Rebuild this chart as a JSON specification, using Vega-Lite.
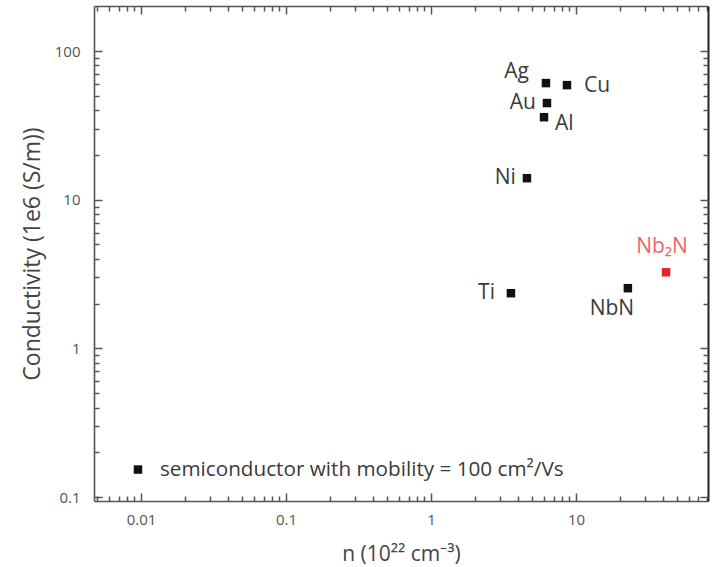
{
  "$schema": "https://vega.github.io/schema/vega-lite/v6.json",
  "width": 614,
  "height": 495,
  "autosize": {"type": "none"},
  "padding": {"left": 94, "top": 6, "right": 4, "bottom": 66},
  "background": "white",
  "config": {"view": {"stroke": null}, "font": "Open Sans"},
  "data": {"values": [
    {"name": "Ag", "n": 6.21, "sigma": 60.9, "sample": "reference"},
    {"name": "Cu", "n": 8.67, "sigma": 59.0, "sample": "reference"},
    {"name": "Au", "n": 6.31, "sigma": 44.7, "sample": "reference"},
    {"name": "Al", "n": 6.02, "sigma": 35.9, "sample": "reference"},
    {"name": "Ni", "n": 4.59, "sigma": 13.96, "sample": "reference"},
    {"name": "Ti", "n": 3.56, "sigma": 2.35, "sample": "reference"},
    {"name": "NbN", "n": 22.8, "sigma": 2.54, "sample": "reference"},
    {"name": "Nb₂N", "n": 41.8, "sigma": 3.25, "sample": "this work"},
    {"name": "semiconductor with mobility = 100 cm²/Vs", "n": 0.00953, "sigma": 0.153, "sample": "reference"}
  ]},
  "resolve": {"axis": {"x": "independent", "y": "independent"}},
  "layer": [
    {
      "mark": {"type": "point", "shape": "square", "filled": true, "size": 72, "opacity": 1},
      "encoding": {
        "x": {"field": "n", "type": "quantitative",
              "scale": {"type": "log", "domain": [0.00474, 81.4], "nice": false, "zero": false},
              "axis": {"orient": "bottom", "values": [0.01, 0.1, 1, 10], "ticks": false, "grid": false,
                       "domain": true, "domainColor": "#555", "domainWidth": 1.6,
                       "labelFontSize": 15, "labelColor": "#555", "labelPadding": 11, "labelFont": "Open Sans",
                       "title": "n (10²² cm⁻³)", "titleFontSize": 21, "titleFontWeight": "normal", "titleColor": "#444", "titlePadding": 16, "titleFont": "Open Sans"}},
        "y": {"field": "sigma", "type": "quantitative",
              "scale": {"type": "log", "domain": [0.094, 201], "nice": false, "zero": false},
              "axis": {"orient": "left", "values": [0.1, 1, 10, 100], "ticks": false, "grid": false,
                       "domain": true, "domainColor": "#555", "domainWidth": 1.6,
                       "labelFontSize": 15, "labelColor": "#555", "labelPadding": 14, "labelFont": "Open Sans",
                       "title": "Conductivity (1e6 (S/m))", "titleFontSize": 23, "titleFontWeight": "normal", "titleColor": "#444", "titlePadding": 10, "titleFont": "Open Sans"}},
        "color": {"field": "sample", "type": "nominal", "scale": {"domain": ["reference", "this work"], "range": ["#111111", "#e3242b"]}, "legend": null}
      }
    },
    {
      "mark": {"type": "point", "opacity": 0},
      "encoding": {
        "x": {"field": "n", "type": "quantitative",
              "axis": {"orient": "top", "offset": -495, "values": [0.01, 0.1, 1, 10], "ticks": true, "tickSize": 8, "tickWidth": 1.5, "tickColor": "#555", "labels": false, "domain": false, "grid": false, "title": null}},
        "y": {"field": "sigma", "type": "quantitative",
              "axis": {"orient": "right", "offset": -614, "values": [0.1, 1, 10, 100], "ticks": true, "tickSize": 8, "tickWidth": 1.5, "tickColor": "#555", "labels": false, "domain": false, "grid": false, "title": null}}
      }
    },
    {
      "mark": {"type": "point", "opacity": 0},
      "encoding": {
        "x": {"field": "n", "type": "quantitative",
              "axis": {"orient": "top", "offset": -495, "values": [0.005, 0.006, 0.007, 0.008, 0.009, 0.02, 0.03, 0.04, 0.05, 0.06, 0.07, 0.08, 0.09, 0.2, 0.3, 0.4, 0.5, 0.6, 0.7, 0.8, 0.9, 2, 3, 4, 5, 6, 7, 8, 9, 20, 30, 40, 50, 60, 70, 80], "ticks": true, "tickSize": 5, "tickWidth": 1.5, "tickColor": "#555", "labels": false, "domain": false, "grid": false, "title": null}},
        "y": {"field": "sigma", "type": "quantitative",
              "axis": {"orient": "right", "offset": -614, "values": [0.2, 0.3, 0.4, 0.5, 0.6, 0.7, 0.8, 0.9, 2, 3, 4, 5, 6, 7, 8, 9, 20, 30, 40, 50, 60, 70, 80, 90], "ticks": true, "tickSize": 5, "tickWidth": 1.5, "tickColor": "#555", "labels": false, "domain": false, "grid": false, "title": null}}
      }
    },
    {
      "mark": {"type": "point", "opacity": 0},
      "encoding": {
        "x": {"field": "n", "type": "quantitative",
              "axis": {"orient": "top", "values": [0.01, 0.1, 1, 10], "ticks": false, "labels": false, "domain": true, "domainColor": "#555", "domainWidth": 1.6, "grid": false, "title": null}},
        "y": {"field": "sigma", "type": "quantitative",
              "axis": {"orient": "right", "values": [0.1, 1, 10, 100], "ticks": false, "labels": false, "domain": true, "domainColor": "#222", "domainWidth": 2, "grid": false, "title": null}}
      }
    },
    {
      "mark": {"type": "point", "opacity": 0},
      "encoding": {
        "x": {"field": "n", "type": "quantitative",
              "axis": {"orient": "bottom", "offset": -495, "values": [0.01, 0.1, 1, 10], "ticks": true, "tickSize": 8, "tickWidth": 1.5, "tickColor": "#555", "labels": false, "domain": false, "grid": false, "title": null}},
        "y": {"field": "sigma", "type": "quantitative",
              "axis": {"orient": "left", "offset": -614, "values": [0.1, 1, 10, 100], "ticks": true, "tickSize": 8, "tickWidth": 1.5, "tickColor": "#555", "labels": false, "domain": false, "grid": false, "title": null}}
      }
    },
    {
      "mark": {"type": "point", "opacity": 0},
      "encoding": {
        "x": {"field": "n", "type": "quantitative",
              "axis": {"orient": "bottom", "offset": -495, "values": [0.005, 0.006, 0.007, 0.008, 0.009, 0.02, 0.03, 0.04, 0.05, 0.06, 0.07, 0.08, 0.09, 0.2, 0.3, 0.4, 0.5, 0.6, 0.7, 0.8, 0.9, 2, 3, 4, 5, 6, 7, 8, 9, 20, 30, 40, 50, 60, 70, 80], "ticks": true, "tickSize": 5, "tickWidth": 1.5, "tickColor": "#555", "labels": false, "domain": false, "grid": false, "title": null}},
        "y": {"field": "sigma", "type": "quantitative",
              "axis": {"orient": "left", "offset": -614, "values": [0.2, 0.3, 0.4, 0.5, 0.6, 0.7, 0.8, 0.9, 2, 3, 4, 5, 6, 7, 8, 9, 20, 30, 40, 50, 60, 70, 80, 90], "ticks": true, "tickSize": 5, "tickWidth": 1.5, "tickColor": "#555", "labels": false, "domain": false, "grid": false, "title": null}}
      }
    },
    {
      "transform": [{"filter": "datum.name === 'Ag'"}],
      "mark": {"type": "text", "align": "right", "baseline": "middle", "dx": -17, "dy": -11, "fontSize": 21, "color": "#3a3a3a", "font": "Open Sans"},
      "encoding": {"x": {"field": "n", "type": "quantitative", "axis": null}, "y": {"field": "sigma", "type": "quantitative", "axis": null}, "text": {"field": "name"}}
    },
    {
      "transform": [{"filter": "datum.name === 'Au' || datum.name === 'Ni'"}],
      "mark": {"type": "text", "align": "right", "baseline": "middle", "dx": -11, "dy": 0, "fontSize": 21, "color": "#3a3a3a", "font": "Open Sans"},
      "encoding": {"x": {"field": "n", "type": "quantitative", "axis": null}, "y": {"field": "sigma", "type": "quantitative", "axis": null}, "text": {"field": "name"}}
    },
    {
      "transform": [{"filter": "datum.name === 'Ti'"}],
      "mark": {"type": "text", "align": "right", "baseline": "middle", "dx": -16, "dy": 0, "fontSize": 21, "color": "#3a3a3a", "font": "Open Sans"},
      "encoding": {"x": {"field": "n", "type": "quantitative", "axis": null}, "y": {"field": "sigma", "type": "quantitative", "axis": null}, "text": {"field": "name"}}
    },
    {
      "transform": [{"filter": "datum.name === 'Cu'"}],
      "mark": {"type": "text", "align": "left", "baseline": "middle", "dx": 17, "dy": 1, "fontSize": 21, "color": "#3a3a3a", "font": "Open Sans"},
      "encoding": {"x": {"field": "n", "type": "quantitative", "axis": null}, "y": {"field": "sigma", "type": "quantitative", "axis": null}, "text": {"field": "name"}}
    },
    {
      "transform": [{"filter": "datum.name === 'Al'"}],
      "mark": {"type": "text", "align": "left", "baseline": "middle", "dx": 11, "dy": 7, "fontSize": 21, "color": "#3a3a3a", "font": "Open Sans"},
      "encoding": {"x": {"field": "n", "type": "quantitative", "axis": null}, "y": {"field": "sigma", "type": "quantitative", "axis": null}, "text": {"field": "name"}}
    },
    {
      "transform": [{"filter": "datum.name === 'NbN'"}],
      "mark": {"type": "text", "align": "center", "baseline": "middle", "dx": -16, "dy": 21, "fontSize": 21, "color": "#3a3a3a", "font": "Open Sans"},
      "encoding": {"x": {"field": "n", "type": "quantitative", "axis": null}, "y": {"field": "sigma", "type": "quantitative", "axis": null}, "text": {"field": "name"}}
    },
    {
      "transform": [{"filter": "datum.sample === 'this work'"}],
      "mark": {"type": "text", "align": "center", "baseline": "middle", "dx": -4, "dy": -25, "fontSize": 21, "color": "#f06464", "font": "Open Sans"},
      "encoding": {"x": {"field": "n", "type": "quantitative", "axis": null}, "y": {"field": "sigma", "type": "quantitative", "axis": null}, "text": {"field": "name"}}
    },
    {
      "transform": [{"filter": "datum.n < 0.1"}],
      "mark": {"type": "text", "align": "left", "baseline": "middle", "dx": 22, "dy": 0, "fontSize": 20.7, "color": "#3a3a3a", "font": "Open Sans"},
      "encoding": {"x": {"field": "n", "type": "quantitative", "axis": null}, "y": {"field": "sigma", "type": "quantitative", "axis": null}, "text": {"field": "name"}}
    }
  ]
}
